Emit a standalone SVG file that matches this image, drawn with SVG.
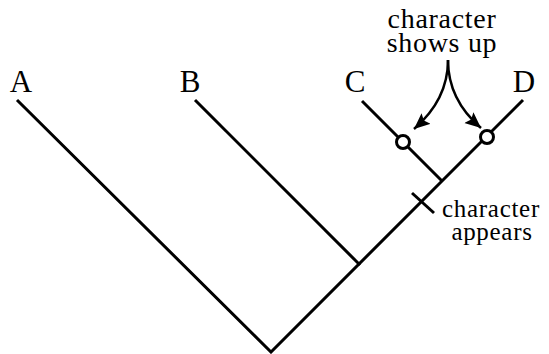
<svg xmlns="http://www.w3.org/2000/svg" width="549" height="354" viewBox="0 0 549 354">
<style>
.br{fill:none;stroke:#000;stroke-width:3;stroke-linecap:butt}
.lbl{font-family:"Liberation Serif",serif;font-size:31px;fill:#000;text-anchor:middle}
.ann1{font-family:"Liberation Serif",serif;font-size:28px;letter-spacing:0.7px;fill:#000;text-anchor:middle}
.ann2{font-family:"Liberation Serif",serif;font-size:25px;letter-spacing:0.7px;fill:#000;text-anchor:middle}
.arr{fill:none;stroke:#000;stroke-width:2.5}
.node{fill:#fff;stroke:#000;stroke-width:3}
</style>
<defs>
<marker id="ah" markerUnits="userSpaceOnUse" markerWidth="18" markerHeight="16" refX="16" refY="7" orient="auto">
<path d="M0,0 L16,7 L0,14 L3,7 z" fill="#000"/>
</marker>
</defs>
<g id="connectors">
<path class="br" d="M17,100 L271,352 L523,100"/>
<path class="br" d="M195,100 L360,265"/>
<path class="br" d="M362,101 L442,181"/>
<path class="br" d="M412,193 L434,213"/>
<path class="arr" d="M448,60 C448,88 436,110 414,129" marker-end="url(#ah)"/>
<path class="arr" d="M448,60 C448,88 460,110 481,128" marker-end="url(#ah)"/>
</g>
<g id="node-A"><text class="lbl" x="21" y="92">A</text></g>
<g id="node-B"><text class="lbl" x="190" y="92">B</text></g>
<g id="node-C"><text class="lbl" x="355" y="92">C</text></g>
<g id="node-D"><text class="lbl" x="524" y="92">D</text></g>
<g id="node-circle-C"><circle class="node" cx="403" cy="142" r="6.5"/></g>
<g id="node-circle-D"><circle class="node" cx="487" cy="137" r="6.5"/></g>
<g id="label-shows-up">
<text class="ann1" x="442" y="28">character</text>
<text class="ann1" x="442" y="51.5">shows up</text>
</g>
<g id="label-appears">
<text class="ann2" x="491" y="217">character</text>
<text class="ann2" x="492" y="240">appears</text>
</g>
</svg>
